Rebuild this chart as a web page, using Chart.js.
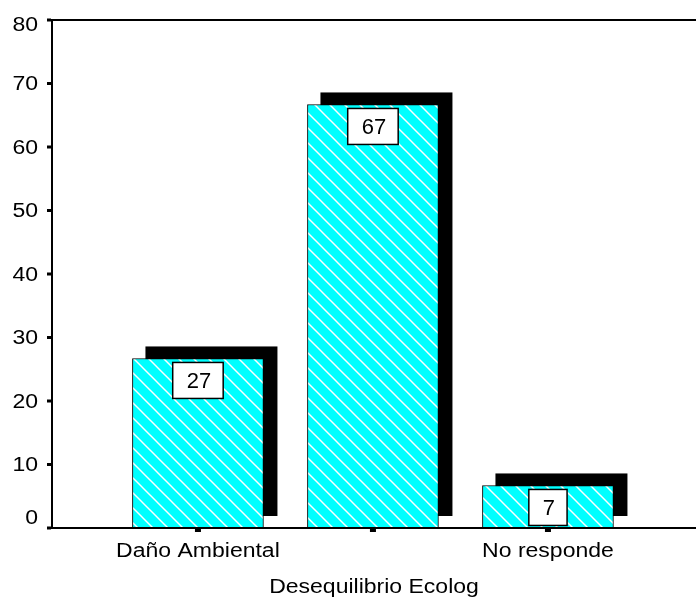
<!DOCTYPE html>
<html lang="es">
<head>
  <meta charset="UTF-8" />
  <title>Desequilibrio Ecolog</title>
  <script src="https://cdn.jsdelivr.net/npm/chart.js"></script>
  <style>
    html, body {
      margin: 0;
      padding: 0;
      background: #fff;
    }
    #wrap {
      width: 696px;
      height: 599px;
    }
  </style>
</head>
<body>
  <div id="wrap"><canvas id="chart" width="696" height="599"></canvas></div>

  <script>
    // datos (porcentajes)
    const categories = ['Daño Ambiental', '', 'No responde'];
    const values = [26.7, 66.7, 6.7];
    const valueLabels = ['27', '67', '7'];
    const yTicks = [0, 10, 20, 30, 40, 50, 60, 70, 80];
    const axisTitle = 'Desequilibrio Ecolog';

    const FONT = 'Arial, "Liberation Sans", sans-serif';
    const STRETCH = 1.15; // el texto original sale algo ensanchado

    // trama cyan con rayas blancas diagonales
    function makeHatch() {
      const size = 15;
      const c = document.createElement('canvas');
      c.width = size; c.height = size;
      const g = c.getContext('2d');
      g.fillStyle = '#00ffff';
      g.fillRect(0, 0, size, size);
      g.strokeStyle = '#ffffff';
      g.lineWidth = 1.5;
      [-size, 0, size].forEach(off => {
        g.beginPath();
        g.moveTo(off - 1, -1);
        g.lineTo(off + size + 1, size + 1);
        g.stroke();
      });
      return g.createPattern(c, 'repeat');
    }

    function wideText(c, txt, x, y) {
      c.save();
      c.translate(x, y);
      c.scale(STRETCH, 1);
      c.fillText(txt, 0, 0);
      c.restore();
    }

    const ctx = document.getElementById('chart').getContext('2d');
    const hatch = makeHatch();

    const points = values.map((v, i) => ({ x: i, y: v }));

    // sombra negra detras de cada barra
    const shadowPlugin = {
      id: 'shadow',
      beforeDatasetsDraw(chart) {
        const c = chart.ctx;
        const meta = chart.getDatasetMeta(0);
        c.save();
        c.fillStyle = '#000';
        meta.data.forEach(bar => {
          const p = bar.getProps(['x', 'y', 'base', 'width'], true);
          c.fillRect(p.x - p.width / 2 + 13, p.y - 12, p.width + 1, p.base - p.y);
        });
        c.restore();
      }
    };

    // marco, ejes, etiquetas y cajas de valores
    const framePlugin = {
      id: 'frame',
      afterDatasetsDraw(chart) {
        const c = chart.ctx;
        const a = chart.chartArea;
        const xs = chart.scales.x;
        const ys = chart.scales.y;
        const meta = chart.getDatasetMeta(0);

        c.save();
        // cajas con valores
        c.font = '22px ' + FONT;
        c.textAlign = 'center';
        c.textBaseline = 'middle';
        meta.data.forEach((bar, i) => {
          const p = bar.getProps(['x', 'y', 'base'], true);
          const w = c.measureText(valueLabels[i]).width + 26;
          const h = 36;
          let top = p.y + 4;
          if (top + h > p.base - 2) top = p.base - h - 2;
          c.fillStyle = '#fff';
          c.fillRect(p.x - w / 2, top, w, h);
          c.strokeStyle = '#000';
          c.lineWidth = 1.5;
          c.strokeRect(p.x - w / 2, top, w, h);
          c.fillStyle = '#000';
          c.fillText(valueLabels[i], p.x + 1, top + h / 2 + 1);
        });

        // marco
        c.strokeStyle = '#000';
        c.lineWidth = 2;
        c.beginPath();
        c.moveTo(a.right, a.top);
        c.lineTo(a.left, a.top);
        c.lineTo(a.left, a.bottom);
        c.lineTo(a.right, a.bottom);
        c.stroke();

        // eje y
        c.fillStyle = '#000';
        c.font = '20px ' + FONT;
        c.textAlign = 'right';
        c.textBaseline = 'middle';
        yTicks.forEach(t => {
          const py = ys.getPixelForValue(t);
          c.fillRect(a.left - 5, py - 1.5, 4, 3);
          const ly = Math.min(Math.max(py + 1, a.top + 5), a.bottom - 10);
          wideText(c, String(t), a.left - 14, ly);
        });

        // eje x
        c.textAlign = 'center';
        c.textBaseline = 'top';
        categories.forEach((cat, i) => {
          const px = xs.getPixelForValue(i);
          c.fillRect(px - 3, a.bottom + 1, 6, 3);
          if (cat) wideText(c, cat, px, a.bottom + 13);
        });

        wideText(c, axisTitle, (a.left + a.right) / 2, a.bottom + 49);
        c.restore();
      }
    };

    new Chart(ctx, {
      type: 'bar',
      data: {
        datasets: [{
          data: points,
          backgroundColor: hatch,
          borderColor: '#000',
          borderWidth: 1,
          borderSkipped: false,
          barThickness: 131
        }]
      },
      options: {
        responsive: false,
        animation: false,
        layout: {
          padding: { left: 52, top: 20, right: 0, bottom: 71 }
        },
        plugins: {
          legend: { display: false },
          tooltip: { enabled: false }
        },
        scales: {
          x: {
            type: 'linear',
            display: false,
            offset: false,
            min: -0.834,
            max: 2.846
          },
          y: {
            display: false,
            min: 0,
            max: 80
          }
        }
      },
      plugins: [shadowPlugin, framePlugin]
    });
  </script>
</body>
</html>
